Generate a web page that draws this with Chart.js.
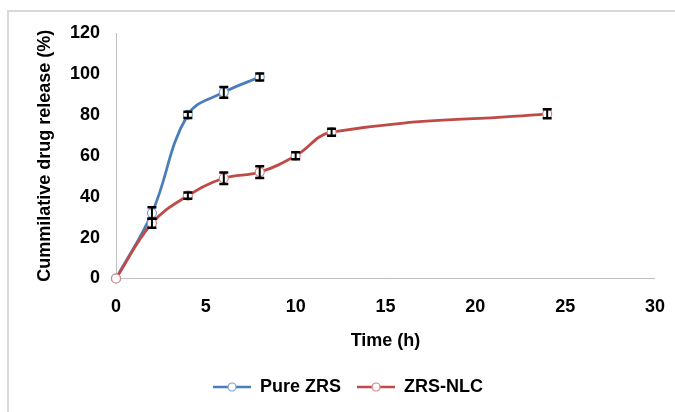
<!DOCTYPE html>
<html>
<head>
<meta charset="utf-8">
<script src="https://cdn.jsdelivr.net/npm/chart.js@4.4.1/dist/chart.umd.min.js"></script>
<style>
  html, body { margin: 0; padding: 0; background: #fff; overflow: hidden; }
  #wrap { position: relative; width: 675px; height: 412px; }
  #frame { position: absolute; left: 7px; top: 10px; width: 720px; height: 440px;
           border: 2px solid #d9d9d9; box-sizing: border-box; }
  #chart { position: absolute; left: 0; top: 0; }
</style>
</head>
<body>
<div id="wrap">
  <div id="frame"></div>
  <canvas id="chart" width="675" height="412"></canvas>
</div>
<script>
// values
const timePure = [0, 2, 4, 6, 8];
const releasePure = [0, 32, 80, 91, 98.5];
const errPure = [0, 2.8, 1.5, 2.6, 1.7];

const timeNlc = [0, 2, 4, 6, 8, 10, 12, 24];
const releaseNlc = [0, 27, 40.5, 49, 52, 60, 71.5, 80.5];
const errNlc = [0, 2.2, 1.5, 2.8, 2.9, 1.7, 1.7, 2.2];

const xTicks = [0, 5, 10, 15, 20, 25, 30];
const yTicks = [0, 20, 40, 60, 80, 100, 120];

const bluLine = '#4a7ebb';
const bluMark = '#7aa0d4';
const redLine = '#be4b48';
const redMark = '#d48482';

const font = {family: '"Liberation Sans", Arial, sans-serif', size: 18, weight: 'bold'};
const padLeft = 30;

function toPoints(xs, ys) {
  return xs.map((x, i) => ({x: x, y: ys[i]}));
}

function legendIcon(line, mark) {
  const c = document.createElement('canvas');
  c.width = 38;
  c.height = 12;
  const ctx = c.getContext('2d');
  ctx.strokeStyle = line;
  ctx.lineWidth = 2.5;
  ctx.beginPath();
  ctx.moveTo(0, 6);
  ctx.lineTo(38, 6);
  ctx.stroke();
  ctx.fillStyle = '#fff';
  ctx.strokeStyle = mark;
  ctx.lineWidth = 1.2;
  ctx.beginPath();
  ctx.arc(19, 6, 4, 0, Math.PI * 2);
  ctx.fill();
  ctx.stroke();
  return c;
}
const icons = [legendIcon(bluLine, bluMark), legendIcon(redLine, redMark)];

// black error bars, placed with the chart's own scales
const errorBars = {
  id: 'errorBars',
  afterDatasetsDraw(chart) {
    const ctx = chart.ctx;
    const yScale = chart.scales.y;
    chart.data.datasets.forEach((ds, di) => {
      const meta = chart.getDatasetMeta(di);
      meta.data.forEach((pt, i) => {
        const e = ds.errors[i];
        if (!e) return;
        const v = ds.data[i].y;
        const top = yScale.getPixelForValue(v + e);
        const bot = yScale.getPixelForValue(v - e);
        ctx.save();
        ctx.strokeStyle = '#000';
        ctx.lineWidth = 2;
        ctx.beginPath();
        ctx.moveTo(pt.x, top);
        ctx.lineTo(pt.x, bot);
        ctx.stroke();
        ctx.lineWidth = 2.5;
        ctx.beginPath();
        ctx.moveTo(pt.x - 4.5, top);
        ctx.lineTo(pt.x + 4.5, top);
        ctx.moveTo(pt.x - 4.5, bot);
        ctx.lineTo(pt.x + 4.5, bot);
        ctx.stroke();
        ctx.restore();
      });
    });
  }
};

new Chart(document.getElementById('chart'), {
  type: 'line',
  data: {
    datasets: [
      {
        label: 'Pure ZRS',
        data: toPoints(timePure, releasePure),
        errors: errPure,
        borderColor: bluLine,
        borderWidth: 2.8,
        pointRadius: 4.5,
        pointBorderWidth: 1.2,
        pointBorderColor: bluMark,
        pointBackgroundColor: '#fff',
        tension: 0.4,
        clip: false,
        order: 1
      },
      {
        label: 'ZRS-NLC',
        data: toPoints(timeNlc, releaseNlc),
        errors: errNlc,
        borderColor: redLine,
        borderWidth: 2.8,
        pointRadius: 4.5,
        pointBorderWidth: 1.2,
        pointBorderColor: redMark,
        pointBackgroundColor: '#fff',
        tension: 0.4,
        clip: false,
        order: 0
      }
    ]
  },
  options: {
    responsive: false,
    animation: false,
    layout: {padding: {top: 33, right: 9, bottom: 6, left: padLeft}},
    plugins: {
      tooltip: {enabled: false},
      legend: {
        position: 'bottom',
        labels: {
          font: font,
          color: '#000',
          usePointStyle: true,
          pointStyleWidth: 38,
          padding: 16,
          sort: (a, b) => a.datasetIndex - b.datasetIndex,
          generateLabels(chart) {
            const items = Chart.defaults.plugins.legend.labels.generateLabels(chart);
            items.forEach(it => { it.pointStyle = icons[it.datasetIndex]; });
            return items;
          }
        }
      }
    },
    scales: {
      x: {
        type: 'linear',
        min: 0,
        max: 30,
        afterBuildTicks: s => { s.ticks = xTicks.map(v => ({value: v})); },
        afterFit: s => { s.height = 83.5; },
        grid: {display: false},
        border: {display: true, color: '#bfbfbf', width: 1},
        ticks: {font: font, color: '#000', padding: 10, maxRotation: 0},
        title: {display: true, text: 'Time (h)', font: font, color: '#000', padding: {top: 0, bottom: 10}}
      },
      y: {
        min: 0,
        max: 120,
        afterBuildTicks: s => { s.ticks = yTicks.map(v => ({value: v})); },
        afterFit: s => { s.width = 116 - padLeft; },
        grid: {display: false},
        border: {display: true, color: '#bfbfbf', width: 1},
        ticks: {font: font, color: '#000', padding: 8},
        title: {display: true, text: 'Cummilative drug release (%)', font: font, color: '#000', padding: {top: 4, bottom: 0}}
      }
    }
  },
  plugins: [errorBars]
});
</script>
</body>
</html>
